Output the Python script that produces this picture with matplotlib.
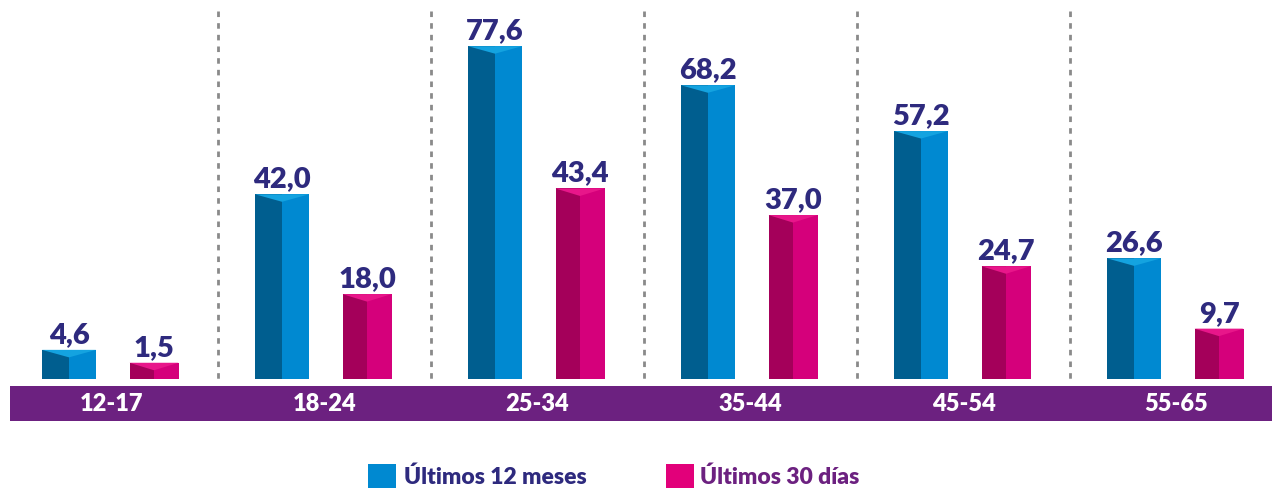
import matplotlib
matplotlib.use("Agg")
import matplotlib.pyplot as plt
from matplotlib.patches import Polygon, Rectangle
import numpy as np

categories = ["12-17", "18-24", "25-34", "35-44", "45-54", "55-65"]
ultimos_12_meses = [4.6, 42.0, 77.6, 68.2, 57.2, 26.6]
ultimos_30_dias = [1.5, 18.0, 43.4, 37.0, 24.7, 9.7]
series_names = ["Últimos 12 meses", "Últimos 30 días"]

plt.rcParams['font.family'] = ['Lato', 'DejaVu Sans']

W, H = 1277, 489
fig = plt.figure(figsize=(W / 100, H / 100), dpi=100)
ax = fig.add_axes([0, 0, 1, 1])
ax.set_axis_off()

# pixel -> data mapping
GX = 213.0
X0 = 111.5
Y0 = 370.0
KY = 4.16
ax.set_xlim(-X0 / GX, (W - X0) / GX)
ax.set_ylim((Y0 - H) / KY, Y0 / KY)

bar_bottom = (Y0 - 380) / KY
cap = 7.5 / KY
off = 42.5 / GX
w_blue = 54 / GX
w_pink = 49 / GX

navy = "#2E2A7E"
purple = "#6C2180"

series = [
    (ultimos_12_meses, -off, w_blue, "#005E8F", "#0089D1", "#14A3E0"),
    (ultimos_30_dias, off, w_pink, "#A4005A", "#D5007B", "#E8168A"),
]

x = np.arange(len(categories))
for vals, dx, w, dark, light, top in series:
    vals = np.array(vals)
    centers = x + dx
    heights = vals - bar_bottom
    ax.bar(centers - w / 2, heights, width=w / 2, bottom=bar_bottom,
           align='edge', color=dark, linewidth=0, zorder=3)
    ax.bar(centers, heights, width=w / 2, bottom=bar_bottom,
           align='edge', color=light, linewidth=0, zorder=3)
    for c, v in zip(centers, vals):
        ax.add_patch(Polygon([(c - w / 2, v), (c + w / 2, v), (c, v - cap)],
                             closed=True, color=top, linewidth=0, zorder=4))
        ax.annotate(f"{v:.1f}".replace(".", ","), (c, v), xytext=(0, 3),
                    textcoords='offset pixels', ha='center', va='bottom',
                    fontsize=21, fontweight='heavy', color=navy, zorder=5)

# separators
for k in range(len(categories) - 1):
    xs = k + 0.5 - 0.5 / GX
    ax.plot([xs, xs], [(Y0 - 12) / KY, bar_bottom], color="#8A8A8A",
            linewidth=2, linestyle=(0, (2, 2.2)), zorder=2)

# category band
band_top = (Y0 - 387) / KY
band_bot = (Y0 - 422) / KY
ax.add_patch(Rectangle(((10 - X0) / GX, band_bot), (1272 - 10) / GX,
                       band_top - band_bot, color=purple, linewidth=0, zorder=3))
for i, cat in enumerate(categories):
    ax.text(i, (band_top + band_bot) / 2, cat, ha='center', va='center',
            fontsize=17, fontweight='heavy', color='white', zorder=5)

# legend
def fx(px):
    return px / W

def fy(py):
    return 1 - py / H

leg = [(368, 396, "#0089D1", navy, 404),
       (666, 694, "#E2007A", purple, 700)]
for (x1, x2, col, tcol, tx), name in zip(leg, series_names):
    fig.patches.append(Rectangle((fx(x1), fy(489)), fx(x2 - x1), (489 - 465) / H,
                                 transform=fig.transFigure, color=col,
                                 linewidth=0))
    fig.text(fx(tx), fy(477), name, ha='left', va='center', fontsize=16.5,
             fontweight='heavy', color=tcol)

fig.savefig("out.png", dpi=100)
